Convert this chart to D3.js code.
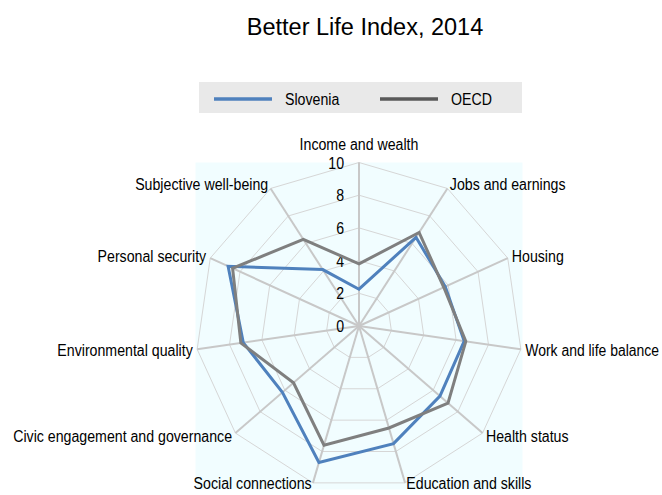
<!DOCTYPE html>
<html>
<head>
<meta charset="utf-8">
<script src="https://cdn.jsdelivr.net/npm/d3@7"></script>
<style>
  html, body { margin: 0; padding: 0; background: #ffffff; }
  svg { display: block; }
</style>
</head>
<body>
<div id="chart"></div>
<script>
// ---- Data ----
const categories = [
  "Income and wealth",
  "Jobs and earnings",
  "Housing",
  "Work and life balance",
  "Health status",
  "Education and skills",
  "Social connections",
  "Civic engagement and governance",
  "Environmental quality",
  "Personal security",
  "Subjective well-being"
];
const slovenia = [2.25, 6.45, 5.8, 6.5, 6.55, 7.5, 8.7, 6.2, 7.15, 8.8, 4.1];
const oecd     = [3.8, 6.8, 5.7, 6.6, 7.2, 6.5, 7.6, 5.3, 7.3, 8.5, 6.3];
const tickValues = [0, 2, 4, 6, 8, 10];
const seriesNames = ["Slovenia", "OECD"];
const title = "Better Life Index, 2014";

// ---- Layout ----
const W = 662, H = 495;
const cx = 359, cy = 326, R = 163.5;
const narrowFont = "'Liberation Sans Narrow', 'Arial Narrow', 'Liberation Sans', Arial, sans-serif";
const regularFont = "'Liberation Sans', Arial, sans-serif";

const svg = d3.select("#chart").append("svg")
  .attr("width", W).attr("height", H);

// Test narrow font availability
const probe = svg.append("text").attr("font-family", narrowFont).attr("font-size", 17)
  .text("Income and wealth");
const probeW = probe.node().getComputedTextLength();
probe.remove();
const isNarrow = probeW <= 125;
const labelSize = isNarrow ? 17 : 14 * (119 / (probeW * 14 / 17));
const labelFont = narrowFont;
const tallSize = 16;

// Condense regular font to mimic narrow face: measure at width-matched size,
// then enlarge and fit to that length; keep start-anchored texts inside the page.
function styleLabel(sel) {
  sel.attr("font-family", labelFont).attr("font-size", labelSize).attr("fill", "#000");
  sel.each(function() {
    const t = d3.select(this);
    let L = this.getComputedTextLength();
    const x = +t.attr("x");
    const anchor = t.attr("text-anchor") || "start";
    if (anchor === "start" && x + L > W - 3) L = W - 3 - x;
    if (!isNarrow || L < this.getComputedTextLength()) {
      if (!isNarrow) t.attr("font-size", tallSize);
      t.attr("textLength", L).attr("lengthAdjust", "spacingAndGlyphs");
    }
  });
}

const r = d3.scaleLinear().domain([0, 10]).range([0, R]);
const angle = d3.scaleLinear().domain([0, categories.length]).range([0, 2 * Math.PI]);
const pt = (i, v) => [cx + r(v) * Math.sin(angle(i)), cy - r(v) * Math.cos(angle(i))];

// Title
svg.append("text")
  .attr("x", 365).attr("y", 35)
  .attr("text-anchor", "middle")
  .attr("font-family", regularFont)
  .attr("font-size", 23.5)
  .attr("fill", "#000")
  .text(title);

// Legend
const legend = svg.append("g");
legend.append("rect").attr("x", 199).attr("y", 82).attr("width", 323).attr("height", 31)
  .attr("fill", "#e9e9e9");
const legendItems = [
  { name: seriesNames[0], color: "#4f81bd", x: 214 },
  { name: seriesNames[1], color: "#595959", x: 380 }
];
legendItems.forEach(d => {
  legend.append("line").attr("x1", d.x).attr("x2", d.x + 58).attr("y1", 99).attr("y2", 99)
    .attr("stroke", d.color).attr("stroke-width", 3.5);
  legend.append("text").attr("x", d.x + 71).attr("y", 99).attr("dy", "0.35em")
    .text(d.name).call(styleLabel);
});

// Plot background
svg.append("rect").attr("x", cx - R).attr("y", cy - R).attr("width", 2 * R).attr("height", 2 * R)
  .attr("fill", "#f1fdff");

// Rings
const ringLevels = tickValues.filter(v => v > 0);
const lineGen = d3.line();
svg.append("g").selectAll("path").data(ringLevels).join("path")
  .attr("d", v => lineGen(categories.map((c, i) => pt(i, v))) + "Z")
  .attr("fill", "none").attr("stroke", "#d6d6d6").attr("stroke-width", 1);

// Spokes
svg.append("g").selectAll("line").data(categories).join("line")
  .attr("x1", cx).attr("y1", cy)
  .attr("x2", (c, i) => pt(i, 10)[0]).attr("y2", (c, i) => pt(i, 10)[1])
  .attr("stroke", "#c8c8c8").attr("stroke-width", 2);

// Tick labels
svg.append("g").selectAll("text").data(tickValues).join("text")
  .attr("x", cx - 15).attr("y", v => cy - r(v) + 0.5).attr("dy", "0.35em")
  .attr("text-anchor", "end")
  .text(v => v)
  .call(styleLabel);

// Series
const series = [
  { values: slovenia, color: "#4f81bd" },
  { values: oecd, color: "#7f7f7f" }
];
svg.append("g").selectAll("path").data(series).join("path")
  .attr("d", s => lineGen(s.values.map((v, i) => pt(i, v))) + "Z")
  .attr("fill", "none").attr("stroke", s => s.color).attr("stroke-width", 3)
  .attr("stroke-linejoin", "miter");

// Category labels
svg.append("g").selectAll("text").data(categories).join("text")
  .each(function(c, i) {
    const a = angle(i);
    const s = Math.sin(a), co = Math.cos(a);
    const t = d3.select(this);
    if (Math.abs(s) < 0.01) {
      t.attr("x", cx).attr("y", cy - R - 18).attr("text-anchor", "middle");
    } else {
      const x = cx + (R + 4.5) * s;
      let y = cy - (R + 5) * co;
      y = Math.min(y, 483);
      t.attr("x", x).attr("y", y).attr("text-anchor", s > 0 ? "start" : "end");
    }
  })
  .attr("dy", "0.35em")
  .text(c => c)
  .call(styleLabel);
</script>
</body>
</html>
